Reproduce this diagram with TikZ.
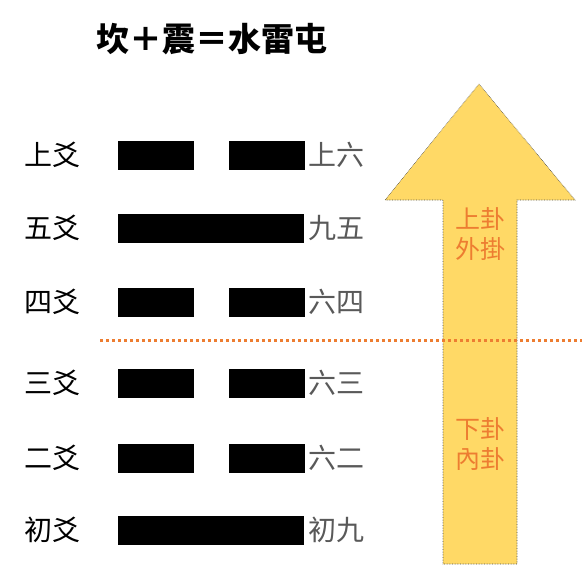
\documentclass[tikz,border=0pt]{standalone}
\usepackage{fontspec}
\newfontfamily\cjk{Noto Sans CJK TC}
\usetikzlibrary{
  positioning,
  calc
}
\definecolor{guaorange}{HTML}{ED7D31}
\definecolor{arrowgold}{HTML}{FFD966}
\definecolor{namegray}{HTML}{595959}
\tikzset{
  title/.style={
    font=\cjk\bfseries\fontsize{33}{33}\selectfont,
    inner sep=0pt,
  },
  yaolabel/.style={
    font=\cjk\fontsize{28}{28}\selectfont,
    inner sep=0pt,
  },
  yaoname/.style={
    yaolabel,
    text=namegray,
    anchor=west,
  },
  yang/.style={
    fill=black,
    minimum width=186pt,
    minimum height=29pt,
    inner sep=0pt,
    anchor=west,
  },
  yin/.style={
    yang,
    minimum width=76pt,
  },
  guaname/.style={
    font=\cjk\fontsize{25}{30}\selectfont,
    text=guaorange,
    align=center,
    inner sep=0pt,
  },
  arrowbody/.style={
    fill=arrowgold,
    draw=black!70,
    densely dotted,
    line width=0.6pt,
  },
  divider/.style={
    guaorange,
    line width=3pt,
    dash pattern=on 3pt off 3pt,
  },
}

\begin{document}
\begin{tikzpicture}[x=1pt,y=-1pt,node distance=34pt]
		\useasboundingbox (0,0) rectangle (582,583);

		% arrow
		\coordinate (tip) at (479,84);
		\draw[arrowbody] (tip) -- (575,200) -- (517,200) -- (517,564) -- (443,564) -- (443,200) -- (385,200) -- cycle;
		\node[guaname] (upper) at (480,234) {上卦\\外掛};
		\node[guaname] (lower) at (480,444) {下卦\\內卦};

		% title
		\node[title] (hexname) at (212,39) {坎＋震＝水雷屯};

		% lines, top to bottom
		\node[yaolabel] (l6) at (52,155) {上爻};
		\node[yin] (b6a) at (118,155) {};
		\node[yin,right=of b6a] (b6b) {};
		\node[yaoname] (n6) at (308,155) {上六};

		\node[yaolabel] (l5) at (52,228) {五爻};
		\node[yang] (b5) at (118,228) {};
		\node[yaoname] (n5) at (308,228) {九五};

		\node[yaolabel] (l4) at (52,302) {四爻};
		\node[yin] (b4a) at (118,302) {};
		\node[yin,right=of b4a] (b4b) {};
		\node[yaoname] (n4) at (308,302) {六四};

		\node[yaolabel] (l3) at (52,383) {三爻};
		\node[yin] (b3a) at (118,383) {};
		\node[yin,right=of b3a] (b3b) {};
		\node[yaoname] (n3) at (308,383) {六三};

		\node[yaolabel] (l2) at (52,458) {二爻};
		\node[yin] (b2a) at (118,458) {};
		\node[yin,right=of b2a] (b2b) {};
		\node[yaoname] (n2) at (308,458) {六二};

		\node[yaolabel] (l1) at (52,530) {初爻};
		\node[yang] (b1) at (118,530) {};
		\node[yaoname] (n1) at (308,530) {初九};

		% upper / lower trigram divider
		\coordinate (divl) at (100,340);
		\coordinate (divr) at (582,340);
		\draw[divider] (divl) -- (divr);

	\end{tikzpicture}
\end{document}
